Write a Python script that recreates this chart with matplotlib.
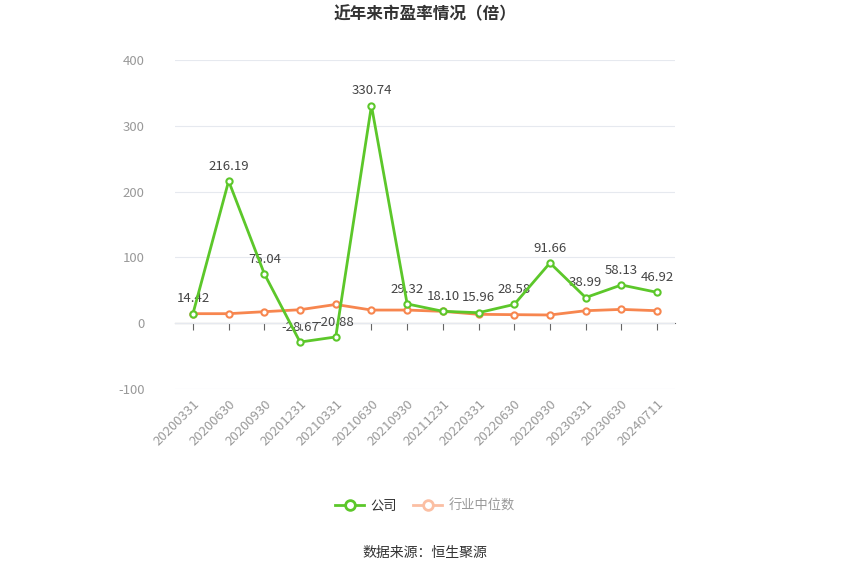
import matplotlib.pyplot as plt
from matplotlib.lines import Line2D

plt.rcParams['font.family'] = ['Noto Sans CJK SC', 'DejaVu Sans']
plt.rcParams['axes.unicode_minus'] = False

dates = ['20200331', '20200630', '20200930', '20201231', '20210331', '20210630',
         '20210930', '20211231', '20220331', '20220630', '20220930', '20230331',
         '20230630', '20240711']
company = [14.42, 216.19, 75.04, -28.67, -20.88, 330.74, 29.32, 18.10, 15.96,
           28.58, 91.66, 38.99, 58.13, 46.92]
industry = [14.5, 14.5, 17.5, 20.5, 28.5, 20.0, 20.0, 18.0, 13.5, 13.0, 12.5,
            19.0, 21.0, 19.0]

green = '#5cc72a'
orange = '#f7864f'

fig = plt.figure(figsize=(8.5, 5.75), dpi=100)
ax = fig.add_axes([0.206, 0.3235, 0.588, 0.572])

x = list(range(len(dates)))
ax.plot(x, industry, color=orange, lw=2, marker='o', ms=4.5, mfc='white',
        mec=orange, mew=1.5, zorder=3)
ax.plot(x, company, color=green, lw=2, marker='o', ms=4.5, mfc='white',
        mec=green, mew=1.5, zorder=4)

for xi, v in zip(x, company):
    ax.annotate(f'{v:.2f}', (xi, v), xytext=(0, 6), textcoords='offset points',
                ha='center', va='bottom', fontsize=9.5, color='#444444')

ax.set_xlim(-0.5, len(dates) - 0.5)
ax.set_ylim(-100, 400)
ax.set_yticks([-100, 0, 100, 200, 300, 400])
ax.set_xticks(x)
ax.set_xticklabels(dates, rotation=45, ha='right', rotation_mode='anchor',
                   fontsize=9.5, color='#999999')
ax.tick_params(axis='y', length=0, labelsize=9.5, labelcolor='#999999', pad=22)
ax.tick_params(axis='x', length=0, pad=6)
ax.grid(axis='y', color='#e6e9ef', lw=0.8)
ax.set_axisbelow(True)
for s in ax.spines.values():
    s.set_visible(False)

# axis line with ticks sitting at y = 0
zero_axis = ax.secondary_xaxis(0.2)
zero_axis.set_xticks(x, labels=[])
zero_axis.tick_params(length=5, color='#666666')
zero_axis.spines['bottom'].set_color('#666666')

fig.text(0.5, 0.975, '近年来市盈率情况（倍）', ha='center', va='center',
         fontsize=12, fontweight='bold', color='#333333')
fig.text(0.5, 0.038, '数据来源：恒生聚源', ha='center', va='center',
         fontsize=10, color='#333333')

handles = [Line2D([], [], color=green, lw=2, marker='o', ms=7, mfc='white',
                  mec=green, mew=2),
           Line2D([], [], color='#fbbfa3', lw=2, marker='o', ms=7, mfc='white',
                  mec='#fbbfa3', mew=2)]
leg = fig.legend(handles, ['公司', '行业中位数'], loc='center',
                 bbox_to_anchor=(0.5, 0.12), ncol=2, frameon=False,
                 fontsize=9.5, handlelength=2.2, columnspacing=1.2,
                 handletextpad=0.5)
leg.get_texts()[0].set_color('#333333')
leg.get_texts()[1].set_color('#999999')

fig.savefig('out.png', dpi=100)
